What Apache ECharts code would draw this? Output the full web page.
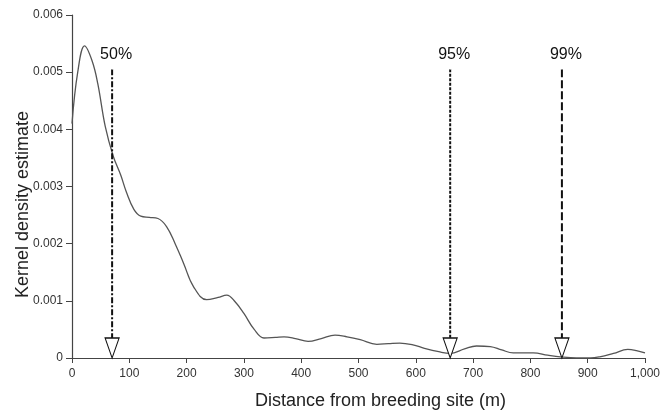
<!DOCTYPE html>
<html>
<head>
<meta charset="utf-8">
<script src="https://cdn.jsdelivr.net/npm/echarts@6/dist/echarts.min.js"></script>
<style>
	html, body { margin: 0; padding: 0; background: #fff; }
	#chart { width: 672px; height: 418px; }
</style>
</head>
<body>
<div id="chart"></div>
<script>
// distance from breeding site (m) and kernel density estimate
let distance = [0, 10, 22, 35, 45, 58, 72, 85, 95, 108, 120, 135, 150, 165, 180, 195, 212, 235, 255, 270, 285, 300, 318, 335, 355, 370, 390, 412, 435, 459, 480, 503, 532, 552, 572, 595, 615, 640, 660, 685, 706, 730, 750, 770, 790, 805, 830, 852, 880, 905, 921, 945, 970, 985, 1000];
let density = [0.0041, 0.0050, 0.00546, 0.0052, 0.0048, 0.00405, 0.00353, 0.0032, 0.0029, 0.0026, 0.00248, 0.00246, 0.00244, 0.0023, 0.0020, 0.00165, 0.00125, 0.00102, 0.00106, 0.0011, 0.00098, 0.00078, 0.0005, 0.00035, 0.00036, 0.00037, 0.00034, 0.00029, 0.00034, 0.0004, 0.00037, 0.00032, 0.00024, 0.00025, 0.00026, 0.00023, 0.00017, 0.00011, 0.00008, 0.00016, 0.00021, 0.0002, 0.00014, 0.00009, 0.00009, 0.00009, 0.00005, 0.00002, 0, 0, 0.00002, 0.00008, 0.00015, 0.00013, 0.00009];

// percentile distances marked with arrows
let markerX = [70, 660, 855];
let markerLabel = ['50%', '95%', '99%'];
let markerTop = 0.00505;
let markerDash = [[6, 2, 2, 2], [3, 1.5], [8, 3]];

let xTicks = [0, 100, 200, 300, 400, 500, 600, 700, 800, 900, 1000];
let yTicks = [0, 0.001, 0.002, 0.003, 0.004, 0.005, 0.006];

let myChart = echarts.init(document.getElementById('chart'), null, { renderer: 'canvas' });
let font = 'Liberation Sans, Arial, Helvetica, sans-serif';

let series = [{
	type: 'line',
	data: distance.map((d, i) => [d, density[i]]),
	smooth: 0.4,
	showSymbol: false,
	lineStyle: { color: '#555', width: 1.3 },
	z: 2
}];

markerX.forEach((x, i) => {
	series.push({
		type: 'line',
		data: [[x, markerTop], [x, 0.0002]],
		showSymbol: false,
		symbol: 'none',
		lineStyle: { color: '#111', width: 2, type: markerDash[i] },
		z: 3
	});
	// hollow arrowhead at the axis
	series.push({
		type: 'scatter',
		data: [[x, 0]],
		symbol: 'triangle',
		symbolSize: [14, 20],
		symbolRotate: 180,
		symbolOffset: [0, -10],
		itemStyle: { color: '#fff', borderColor: '#111', borderWidth: 1.2, opacity: 1 },
		z: 4
	});
	// percentage label above the line
	series.push({
		type: 'scatter',
		data: [[x, markerTop]],
		symbolSize: 1,
		itemStyle: { color: '#fff', opacity: 1 },
		label: {
			show: true,
			formatter: markerLabel[i],
			position: 'top',
			distance: 6,
			offset: [4, 0],
			color: '#111',
			opacity: 1,
			fontSize: 16,
			fontFamily: font
		},
		z: 4
	});
});

let option = {
	animation: false,
	grid: { left: 72, right: 27, top: 15, bottom: 60, outerBoundsMode: 'none', containLabel: false },
	xAxis: {
		type: 'value',
		min: 0,
		max: 1000,
		interval: 100,
		name: 'Distance from breeding site (m)',
		nameLocation: 'middle',
		nameGap: 34,
		nameMoveOverlap: false,
		nameTextStyle: { color: '#222', fontSize: 18, fontFamily: font, padding: [0, 0, 0, 44] },
		axisLine: { lineStyle: { color: '#444', width: 1.2 } },
		axisTick: { length: 5, lineStyle: { color: '#444' } },
		axisLabel: {
			color: '#333', fontSize: 12, fontFamily: font, margin: 10,
			formatter: v => xTicks.indexOf(v) >= 0 ? v.toLocaleString('en-US') : ''
		},
		splitLine: { show: false }
	},
	yAxis: {
		type: 'value',
		min: 0,
		max: 0.006,
		interval: 0.001,
		name: 'Kernel density estimate',
		nameLocation: 'middle',
		nameGap: 40,
		nameMoveOverlap: false,
		nameRotate: 90,
		nameTextStyle: { color: '#222', fontSize: 18, fontFamily: font, padding: [0, 36, 0, 0] },
		axisLine: { show: true, lineStyle: { color: '#444', width: 1.2 } },
		axisTick: { show: true, length: 6, lineStyle: { color: '#444' } },
		axisLabel: {
			color: '#333', fontSize: 12, fontFamily: font, margin: 9,
			formatter: v => {
				let t = yTicks.find(y => Math.abs(y - v) < 1e-9);
				return t === 0 ? '0' : t.toFixed(3);
			}
		},
		splitLine: { show: false }
	},
	series: series
};
myChart.setOption(option);
window.onresize = myChart.resize;
</script>
</body>
</html>
